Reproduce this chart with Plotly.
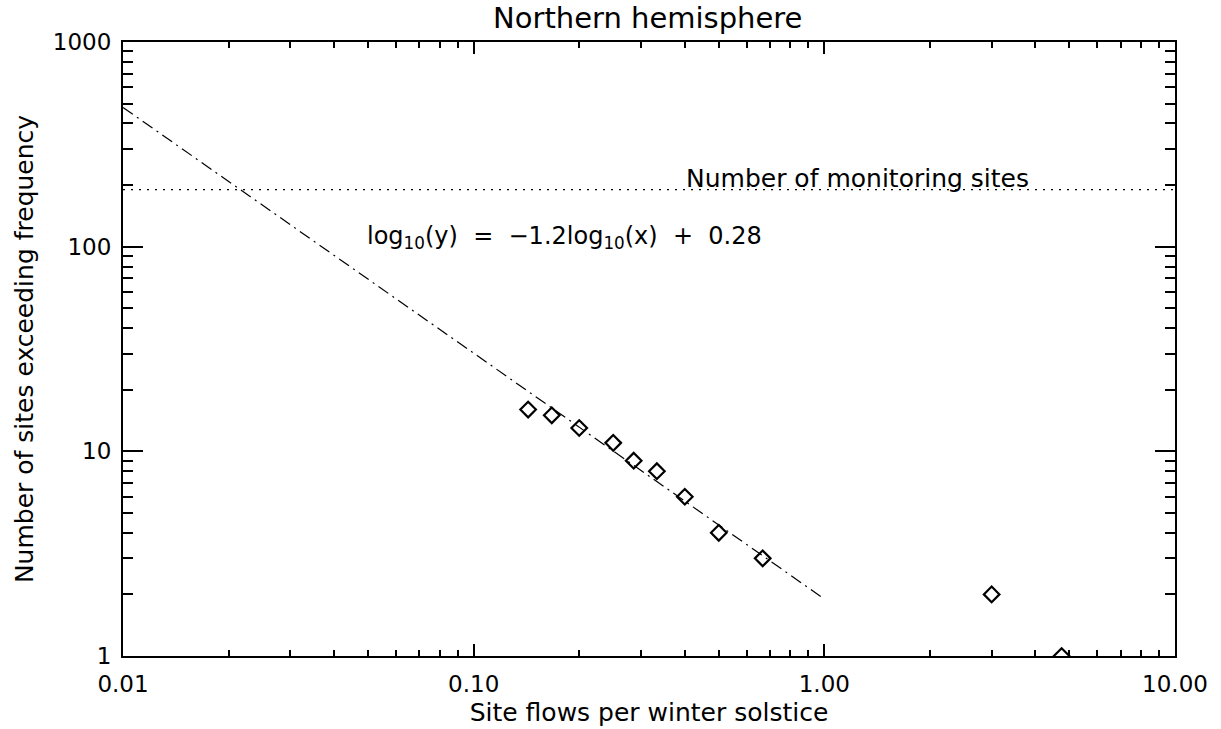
import plotly.graph_objects as go

# Data
flow_rate = [0.143, 0.167, 0.2, 0.25, 0.286, 0.333, 0.4, 0.5, 0.667, 3.0, 4.75]
n_sites = [16, 15, 13, 11, 9, 8, 6, 4, 3, 2, 1]

fit_x = [0.01, 1.0]
fit_y = [479, 1.9]

monitoring_sites = 190
x_range_vals = [0.01, 10]

x_tickvals = [0.01, 0.1, 1, 10]
x_ticktext = ["0.01", "0.10", "1.00", "10.00"]
y_tickvals = [1, 10, 100, 1000]
y_ticktext = ["1", "10", "100", "1000"]

FONT = "DejaVu Sans"

def minor_vals(lo_exp, hi_exp):
    vals = []
    for e in range(lo_exp, hi_exp):
        for k in range(2, 10):
            vals.append(k * 10 ** e)
    return vals

fig = go.Figure()

fig.add_trace(go.Scatter(
    x=x_range_vals, y=[monitoring_sites, monitoring_sites], mode="lines",
    line=dict(color="black", width=1.2, dash="2px,6px"), showlegend=False, hoverinfo="skip"))

fig.add_trace(go.Scatter(
    x=fit_x, y=fit_y, mode="lines",
    line=dict(color="black", width=1.2, dash="12px,5px,2px,5px"), showlegend=False))

fig.add_trace(go.Scatter(
    x=flow_rate, y=n_sites, mode="markers",
    marker=dict(symbol="diamond-open", size=12, color="black", line=dict(width=2.2, color="black")),
    showlegend=False))

fig.add_annotation(x=0.23, y=0.681, xref="paper", yref="paper", xanchor="left", yanchor="middle",
                   text="log<sub>10</sub>(y)\u00a0\u00a0=\u00a0\u00a0\u22121.2log<sub>10</sub>(x)\u00a0\u00a0+\u00a0\u00a00.28",
                   showarrow=False, font=dict(family=FONT, size=24, color="black"))

fig.add_annotation(x=0.533, y=0.778, xref="paper", yref="paper", xanchor="left", yanchor="middle",
                   text="Number of monitoring sites",
                   showarrow=False, font=dict(family=FONT, size=25, color="black"))

fig.update_layout(
    width=1221, height=729,
    margin=dict(l=123, r=46, t=42, b=73, autoexpand=False),
    paper_bgcolor="white", plot_bgcolor="white",
    font=dict(family=FONT, color="black"),
    title=dict(text="Northern hemisphere", x=0.5305, xanchor="center",
               y=1 - 18 / 729, yref="container", yanchor="middle",
               font=dict(family=FONT, size=29, color="black")),
)

fig.update_xaxes(
    type="log", range=[-2, 1], automargin=False,
    showgrid=False, zeroline=False,
    showline=True, linecolor="black", linewidth=2, mirror="ticks",
    ticks="inside", ticklen=12, tickwidth=1.5, tickcolor="black",
    tickmode="array", tickvals=x_tickvals, ticktext=x_ticktext,
    tickfont=dict(family=FONT, size=23, color="black"),
    ticklabelstandoff=6,
    minor=dict(ticks="inside", ticklen=6, tickwidth=1.5, tickcolor="black",
               tickmode="array", tickvals=minor_vals(-2, 1), showgrid=False),
    title=dict(text="Site flows per winter solstice", font=dict(family=FONT, size=25, color="black"),
               standoff=8),
)

fig.update_yaxes(
    type="log", range=[0, 3], automargin=False,
    showgrid=False, zeroline=False,
    showline=True, linecolor="black", linewidth=2, mirror="ticks",
    ticks="inside", ticklen=20, tickwidth=1.5, tickcolor="black",
    tickmode="array", tickvals=y_tickvals, ticktext=y_ticktext,
    tickfont=dict(family=FONT, size=23, color="black"),
    ticklabelstandoff=5,
    minor=dict(ticks="inside", ticklen=10, tickwidth=1.5, tickcolor="black",
               tickmode="array", tickvals=minor_vals(0, 3), showgrid=False),
    title=dict(text="Number of sites exceeding frequency", font=dict(family=FONT, size=25, color="black"),
               standoff=12),
)

fig.write_html("out.html")
